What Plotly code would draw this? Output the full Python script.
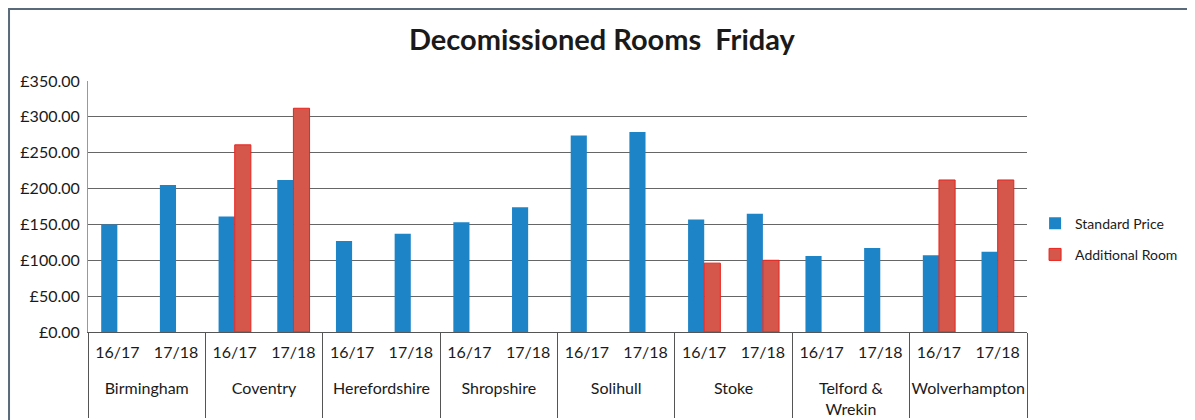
import plotly.graph_objects as go

regions = ["Birmingham", "Coventry", "Herefordshire", "Shropshire", "Solihull",
           "Stoke", "Telford &<br>Wrekin", "Wolverhampton"]
years = ["16/17", "17/18"]
standard_price = [150, 205, 161, 212, 127, 137, 153, 174, 274, 279,
                  157, 165, 106, 117, 107, 112]
additional_room = [None, None, 261, 312, None, None, None, None, None, None,
                   96, 100, None, None, 212, 212]

# leading line break pushes the region row further below the year row
x_outer = ["<br>" + r for r in regions for _ in years]
x_inner = [y for _ in regions for y in years]

FONT = "Lato"
fig = go.Figure()
fig.add_trace(go.Bar(x=[x_outer, x_inner], y=standard_price, name="Standard Price",
                     legendgroup="a",
                     marker=dict(color="#1E84C8", line=dict(width=0))))
fig.add_trace(go.Bar(x=[x_outer, x_inner], y=additional_room, name="Additional Room",
                     legendgroup="b",
                     marker=dict(color="#D5564B", line=dict(color="#E8241E", width=1))))

fig.update_layout(
    width=1195, height=420,
    margin=dict(l=80, r=176, t=73, b=96, autoexpand=False),
    paper_bgcolor="white", plot_bgcolor="white",
    barmode="group", bargap=0.45, bargroupgap=0,
    title=dict(text="<b>Decomissioned Rooms\u00a0 Friday</b>", x=0.497, xanchor="center",
               y=0.925, yanchor="middle", font=dict(family=FONT, size=29, color="#1a1a1a")),
    font=dict(family=FONT, size=16, color="#1a1a1a"),
    legend=dict(x=1.0086, y=0.37, xanchor="left", yanchor="middle",
                traceorder="grouped", tracegroupgap=10,
                font=dict(family=FONT, size=14, color="#1a1a1a"),
                itemwidth=30, bgcolor="rgba(0,0,0,0)"),
    xaxis=dict(type="multicategory", showline=True, linecolor="#555", linewidth=1,
               showdividers=True, dividercolor="#555", dividerwidth=1, automargin=False,
               ticklabelstandoff=6,
               tickfont=dict(family=FONT, size=16, color="#1a1a1a"), ticks=""),
    yaxis=dict(range=[0, 350], dtick=50, tickprefix="£", tickformat=",.2f",
               showgrid=True, gridcolor="#666", gridwidth=1, automargin=False,
               showline=True, linecolor="#999", linewidth=1, zeroline=False,
               ticklabelstandoff=4,
               tickfont=dict(family=FONT, size=16, color="#1a1a1a"), ticks=""),
    shapes=[dict(type="rect", xref="paper", yref="paper", x0=-0.0841, x1=1.3,
                 y0=-0.4, y1=1.287, line=dict(color="#5a6a7a", width=2), layer="below")],
)

fig.write_html("out.html")
